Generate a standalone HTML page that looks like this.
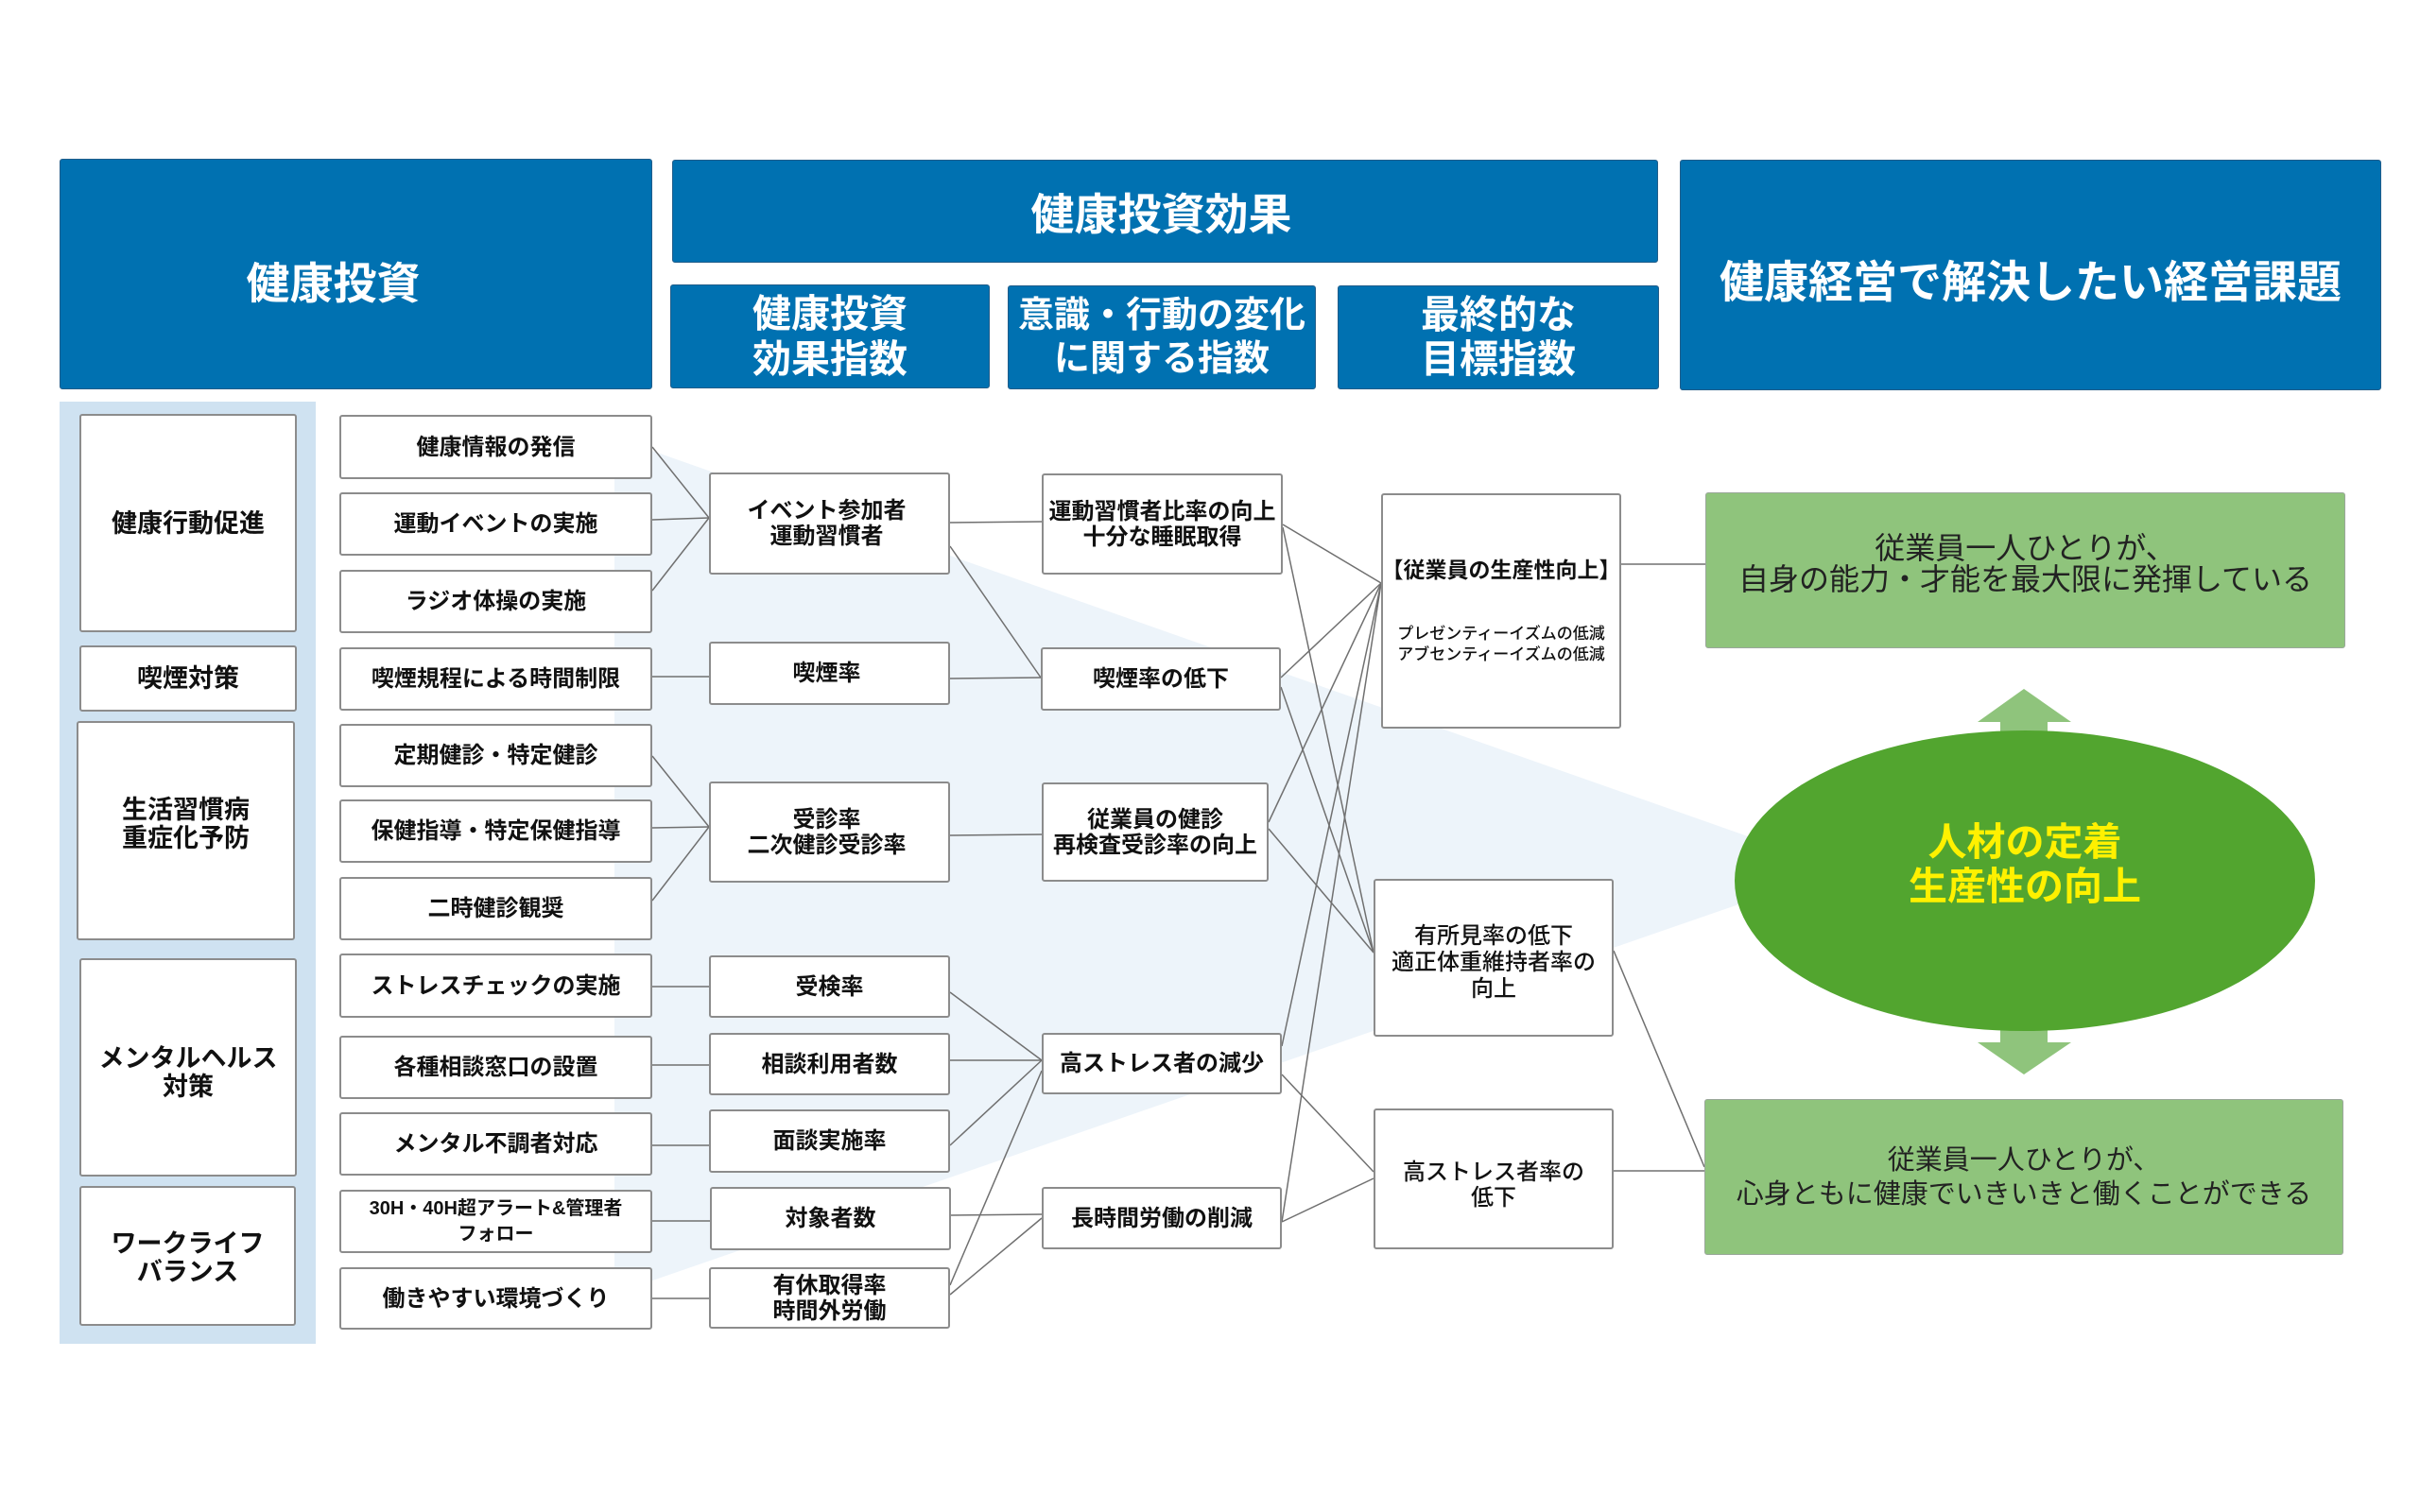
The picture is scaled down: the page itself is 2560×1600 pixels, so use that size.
<!DOCTYPE html>
<html lang="ja">
<head>
<meta charset="utf-8">
<style>
  html, body { margin:0; padding:0; }
  body { width:2560px; height:1600px; position:relative; background:#ffffff; overflow:hidden;
         font-family:"Liberation Sans","Noto Sans CJK JP",sans-serif; color:#111; }
  .abs { position:absolute; box-sizing:border-box; display:flex; align-items:center; justify-content:center; text-align:center; }
  .hd { background:#0071b1; color:#fff; font-weight:bold; border:1px solid #215d8a; border-radius:3px; }
  .bx { background:#fff; border:2px solid #8c8c8c; border-radius:3px; font-weight:bold; }
  .cat { font-size:27px; line-height:30px; }
  .act { font-size:24px; line-height:27px; }
  .ind { font-size:24px; line-height:27px; }
  .reg { font-weight:500; }
  .gr { background:#8fc47c; border:1px solid #9aa79a; border-radius:3px; color:#222; }
  svg { position:absolute; left:0; top:0; }
</style>
</head>
<body>

<svg width="2560" height="1600" viewBox="0 0 2560 1600">
  <!-- faint cone -->
  <polygon points="650,463 1900,903 1900,936 650,1369" fill="#edf4fa"/>
  <!-- left panel -->
  <rect x="63" y="425" width="271" height="997" fill="#cfe2f1"/>
  <g stroke="#707070" stroke-width="1.5" fill="none">
    <!-- col2 -> col3 -->
    <line x1="690" y1="473" x2="750" y2="548"/>
    <line x1="690" y1="550" x2="750" y2="548"/>
    <line x1="690" y1="625" x2="750" y2="548"/>
    <line x1="690" y1="716" x2="750" y2="716"/>
    <line x1="690" y1="800" x2="750" y2="875"/>
    <line x1="690" y1="876" x2="750" y2="875"/>
    <line x1="690" y1="953" x2="750" y2="875"/>
    <line x1="690" y1="1044" x2="750" y2="1044"/>
    <line x1="690" y1="1127" x2="750" y2="1127"/>
    <line x1="690" y1="1212" x2="750" y2="1212"/>
    <line x1="690" y1="1292" x2="751" y2="1292"/>
    <line x1="690" y1="1374" x2="750" y2="1374"/>
    <!-- col3 -> col4 -->
    <line x1="1005" y1="553" x2="1102" y2="552"/>
    <line x1="1005" y1="578" x2="1101" y2="717"/>
    <line x1="1005" y1="718" x2="1101" y2="717"/>
    <line x1="1005" y1="884" x2="1102" y2="883"/>
    <line x1="1005" y1="1050" x2="1102" y2="1122"/>
    <line x1="1005" y1="1122" x2="1102" y2="1122"/>
    <line x1="1005" y1="1212" x2="1102" y2="1122"/>
    <line x1="1005" y1="1360" x2="1102" y2="1133"/>
    <line x1="1005" y1="1286" x2="1102" y2="1285"/>
    <line x1="1005" y1="1370" x2="1102" y2="1289"/>
    <!-- col4 -> col5 -->
    <line x1="1357" y1="555" x2="1461" y2="617"/>
    <line x1="1357" y1="558" x2="1453" y2="1008"/>
    <line x1="1355" y1="717" x2="1461" y2="617"/>
    <line x1="1355" y1="727" x2="1453" y2="1008"/>
    <line x1="1342" y1="870" x2="1461" y2="617"/>
    <line x1="1342" y1="877" x2="1453" y2="1008"/>
    <line x1="1356" y1="1107" x2="1461" y2="617"/>
    <line x1="1356" y1="1293" x2="1461" y2="617"/>
    <line x1="1356" y1="1137" x2="1453" y2="1240"/>
    <line x1="1356" y1="1293" x2="1453" y2="1247"/>
    <!-- col5 -> green -->
    <line x1="1715" y1="597" x2="1804" y2="597"/>
    <line x1="1707" y1="1006" x2="1803" y2="1235"/>
    <line x1="1707" y1="1239" x2="1803" y2="1239"/>
  </g>
  <!-- arrows -->
  <polygon points="2141,729 2191,764 2166,764 2166,790 2116,790 2116,764 2092,764" fill="#8fc47c"/>
  <polygon points="2116,1075 2166,1075 2166,1103 2191,1103 2141,1137 2092,1103 2116,1103" fill="#8fc47c"/>
  <!-- ellipse -->
  <ellipse cx="2142" cy="932" rx="307" ry="159" fill="#52a52f"/>
</svg>

<!-- Headers -->
<div class="abs hd" style="left:63px;top:168px;width:627px;height:244px;font-size:46px;padding-top:14px;padding-right:48px;">健康投資</div>
<div class="abs hd" style="left:711px;top:169px;width:1043px;height:109px;font-size:46px;padding-right:8px;">健康投資効果</div>
<div class="abs hd" style="left:709px;top:301px;width:338px;height:110px;font-size:41px;line-height:48px;">健康投資<br>効果指数</div>
<div class="abs hd" style="left:1066px;top:302px;width:326px;height:110px;font-size:38px;line-height:46px;">意識・行動の変化<br>に関する指数</div>
<div class="abs hd" style="left:1415px;top:302px;width:340px;height:110px;font-size:41px;line-height:47px;">最終的な<br>目標指数</div>
<div class="abs hd" style="left:1777px;top:169px;width:742px;height:244px;font-size:47px;padding-top:6px;">健康経営で解決したい経営課題</div>

<!-- Category boxes -->
<div class="abs bx cat" style="left:84px;top:438px;width:230px;height:231px;">健康行動促進</div>
<div class="abs bx cat" style="left:84px;top:683px;width:230px;height:70px;">喫煙対策</div>
<div class="abs bx cat" style="left:81px;top:763px;width:231px;height:232px;padding-bottom:14px;">生活習慣病<br>重症化予防</div>
<div class="abs bx cat" style="left:84px;top:1014px;width:230px;height:231px;padding-top:10px;">メンタルヘルス<br>対策</div>
<div class="abs bx cat" style="left:84px;top:1255px;width:229px;height:148px;padding-top:4px;">ワークライフ<br>バランス</div>

<!-- Action boxes -->
<div class="abs bx act" style="left:359px;top:439px;width:331px;height:68px;">健康情報の発信</div>
<div class="abs bx act" style="left:359px;top:521px;width:331px;height:67px;">運動イベントの実施</div>
<div class="abs bx act" style="left:359px;top:603px;width:331px;height:67px;">ラジオ体操の実施</div>
<div class="abs bx act" style="left:359px;top:685px;width:331px;height:67px;">喫煙規程による時間制限</div>
<div class="abs bx act" style="left:359px;top:766px;width:331px;height:67px;">定期健診・特定健診</div>
<div class="abs bx act" style="left:359px;top:846px;width:331px;height:67px;">保健指導・特定保健指導</div>
<div class="abs bx act" style="left:359px;top:928px;width:331px;height:67px;">二時健診観奨</div>
<div class="abs bx act" style="left:359px;top:1009px;width:331px;height:68px;">ストレスチェックの実施</div>
<div class="abs bx act" style="left:359px;top:1096px;width:331px;height:67px;">各種相談窓口の設置</div>
<div class="abs bx act" style="left:359px;top:1177px;width:331px;height:67px;">メンタル不調者対応</div>
<div class="abs bx act" style="left:359px;top:1259px;width:331px;height:67px;font-size:20px;line-height:27px;">30H・40H超アラート&amp;管理者<br>フォロー</div>
<div class="abs bx act" style="left:359px;top:1341px;width:331px;height:66px;">働きやすい環境づくり</div>

<!-- Indicator boxes (col3) -->
<div class="abs bx ind" style="left:750px;top:500px;width:255px;height:108px;padding-right:6px;">イベント参加者<br>運動習慣者</div>
<div class="abs bx ind" style="left:750px;top:679px;width:255px;height:67px;padding-right:6px;">喫煙率</div>
<div class="abs bx ind" style="left:750px;top:827px;width:255px;height:107px;padding-right:6px;">受診率<br>二次健診受診率</div>
<div class="abs bx ind" style="left:750px;top:1011px;width:255px;height:66px;">受検率</div>
<div class="abs bx ind" style="left:750px;top:1093px;width:255px;height:66px;">相談利用者数</div>
<div class="abs bx ind" style="left:750px;top:1174px;width:255px;height:67px;">面談実施率</div>
<div class="abs bx ind" style="left:751px;top:1256px;width:255px;height:67px;">対象者数</div>
<div class="abs bx ind" style="left:750px;top:1341px;width:255px;height:65px;">有休取得率<br>時間外労働</div>

<!-- col4 -->
<div class="abs bx ind" style="left:1102px;top:501px;width:255px;height:107px;">運動習慣者比率の向上<br>十分な睡眠取得</div>
<div class="abs bx ind" style="left:1101px;top:685px;width:254px;height:67px;">喫煙率の低下</div>
<div class="abs bx ind" style="left:1102px;top:828px;width:240px;height:105px;">従業員の健診<br>再検査受診率の向上</div>
<div class="abs bx ind" style="left:1102px;top:1093px;width:254px;height:65px;">高ストレス者の減少</div>
<div class="abs bx ind" style="left:1102px;top:1256px;width:254px;height:66px;">長時間労働の削減</div>

<!-- col5 -->
<div class="abs bx reg" style="left:1461px;top:522px;width:254px;height:249px;flex-direction:column;">
  <div style="font-size:23px;line-height:26px;white-space:nowrap;font-weight:bold;">【従業員の生産性向上】</div>
  <div style="font-size:17px;line-height:22px;margin-top:44px;white-space:nowrap;">プレゼンティーイズムの低減<br>アブセンティーイズムの低減</div>
</div>
<div class="abs bx reg" style="left:1453px;top:930px;width:254px;height:167px;font-size:24px;line-height:28px;padding-top:10px;">有所見率の低下<br>適正体重維持者率の<br>向上</div>
<div class="abs bx reg" style="left:1453px;top:1173px;width:254px;height:149px;font-size:24px;line-height:27px;padding-top:12px;">高ストレス者率の<br>低下</div>

<!-- green boxes -->
<div class="abs gr" style="left:1804px;top:521px;width:677px;height:165px;padding-bottom:14px;font-size:32px;line-height:33px;">従業員一人ひとりが、<br>自身の能力・才能を最大限に発揮している</div>
<div class="abs gr" style="left:1803px;top:1163px;width:676px;height:165px;font-size:29px;line-height:36px;">従業員一人ひとりが、<br>心身ともに健康でいきいきと働くことができる</div>

<!-- ellipse text -->
<div class="abs" style="left:1900px;top:860px;width:484px;height:110px;font-size:41px;line-height:47px;color:#fff100;font-weight:bold;">人材の定着<br>生産性の向上</div>

</body>
</html>
